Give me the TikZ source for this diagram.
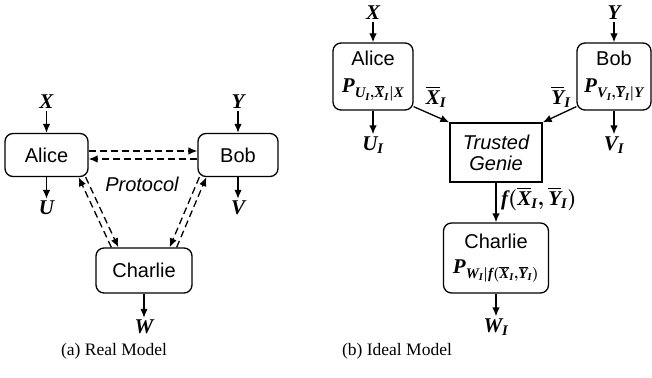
\RequirePackage{fix-cm}
\documentclass[tikz,border=0pt]{standalone}
\usepackage{amsmath}
\usepackage{fontspec}
\setmainfont{Liberation Serif}
\setsansfont{Liberation Sans}
\usetikzlibrary{arrows.meta,calc}
\newcommand{\bv}[1]{\text{\normalfont\rmfamily\bfseries\itshape #1}}
\newcommand{\bo}[1]{\overline{\bv{#1}}}
\tikzset{
  box/.style={draw, rounded corners=8pt, line width=1.3pt, font=\sffamily\fontsize{20}{22}\selectfont, align=center, inner sep=0pt},
  sqbox/.style={draw, line width=1.3pt, font=\sffamily\itshape\fontsize{20}{21}\selectfont, align=center, inner sep=0pt},
  arr/.style={-{Latex[length=9pt,width=7.5pt]}, line width=1.3pt},
  darr/.style={arr, dash pattern=on 7pt off 4pt},
  var/.style={font=\fontsize{21}{23}\selectfont\boldmath, inner sep=2pt},
  lbl/.style={font=\fontsize{21}{23}\selectfont\boldmath, inner sep=0pt},
  pl/.style={font=\fontsize{21}{23}\selectfont\boldmath},
  captext/.style={font=\rmfamily\fontsize{17.5}{20}\selectfont, inner sep=0pt}
}
\begin{document}
\begin{tikzpicture}[x=1pt,y=-1pt]
\useasboundingbox (0,0) rectangle (652,377);
% ---------- (a) Real model
\node[box, minimum width=83pt, minimum height=43pt] (A1) at (46.5,155) {Alice};
\node[box, minimum width=80pt, minimum height=43pt] (B1) at (238,155) {Bob};
\node[box, minimum width=96pt, minimum height=45pt] (C1) at (144,270.5) {Charlie};
\node[var] (X1) at (46.5,102) {$\bv{X}$};
\node[var] (Y1) at (238,102) {$\bv{Y}$};
\node[var] (U1) at (46.5,208) {$\bv{U}$};
\node[var] (V1) at (238,208) {$\bv{V}$};
\node[var] (W1) at (144,327) {$\bv{W}$};
\node[font=\sffamily\itshape\fontsize{20}{22}\selectfont, inner sep=0pt] (P) at (142,184) {Protocol};
\draw[arr] (X1) -- (X1 |- A1.north);
\draw[arr] (Y1) -- (Y1 |- B1.north);
\draw[arr] (A1.south -| U1) -- (U1);
\draw[arr] (B1.south -| V1) -- (V1);
\draw[arr] (C1.south -| W1) -- (W1);
\draw[darr] ([yshift=4pt]A1.east) -- ([yshift=4pt]B1.west);
\draw[darr] ([yshift=-4pt]B1.west) -- ([yshift=-4pt]A1.east);
\draw[darr] ([xshift=16pt]C1.north west) -- ([xshift=-10pt]A1.south east);
\draw[darr] ([xshift=-3pt]A1.south east) -- ([xshift=23pt]C1.north west);
\draw[darr] ([xshift=-16pt]C1.north east) -- ([xshift=9pt]B1.south west);
\draw[darr] ([xshift=2pt]B1.south west) -- ([xshift=-23pt]C1.north east);
% ---------- (b) Ideal model
\node[box, minimum width=80pt, minimum height=67pt] (A2) at (373,76.5) {Alice\\[5pt] {\fontsize{21}{23}\selectfont\boldmath$\bv{P}_{\bv{U}_{\bv{I}},\bo{X}_{\bv{I}}|\bv{X}}$}};
\node[box, minimum width=74pt, minimum height=67pt] (B2) at (614,76.5) {Bob\\[5pt] {\fontsize{21}{23}\selectfont\boldmath$\bv{P}_{\bv{V}_{\bv{I}},\bo{Y}_{\bv{I}}|\bv{Y}}$}};
\node[sqbox, minimum width=92pt, minimum height=59pt] (G) at (496,152.5) {Trusted\\Genie};
\node[box, minimum width=105pt, minimum height=70pt] (C2) at (496,258) {Charlie\\[3pt] {\fontsize{21}{23}\selectfont\boldmath$\bv{P}_{\bv{W}_{\bv{I}}|\bv{f}(\bo{X}_{\bv{I}},\bo{Y}_{\bv{I}})}$}};
\node[var] (X2) at (373,13) {$\bv{X}$};
\node[var] (Y2) at (614,13) {$\bv{Y}$};
\node[var] (U2) at (373,145) {$\bv{U}_{\bv{I}}$};
\node[var] (V2) at (614,145) {$\bv{V}_{\bv{I}}$};
\node[var] (W2) at (496,327) {$\bv{W}_{\bv{I}}$};
\node[lbl] (XI) at (436,97) {$\bo{X}_{\bv{I}}$};
\node[lbl] (YI) at (561,97) {$\bo{Y}_{\bv{I}}$};
\node[lbl, anchor=west] (F) at (501,199) {$\bv{f}(\bo{X}_{\bv{I}},\bo{Y}_{\bv{I}})$};
\draw[arr] (X2) -- (X2 |- A2.north);
\draw[arr] (Y2) -- (Y2 |- B2.north);
\draw[arr] (A2.south -| U2) -- (U2);
\draw[arr] (B2.south -| V2) -- (V2);
\draw[arr] (C2.south -| W2) -- (W2);
\draw[arr] ([yshift=4pt]A2.south east) -- (G.north west);
\draw[arr] ([yshift=4pt]B2.south west) -- (G.north east);
\draw[arr] (G.south) -- (G.south |- C2.north);
% ---------- captions
\node[captext] (capa) at (114,351) {(a) Real Model};
\node[captext] (capb) at (397,351) {(b) Ideal Model};
\end{tikzpicture}
\end{document}
